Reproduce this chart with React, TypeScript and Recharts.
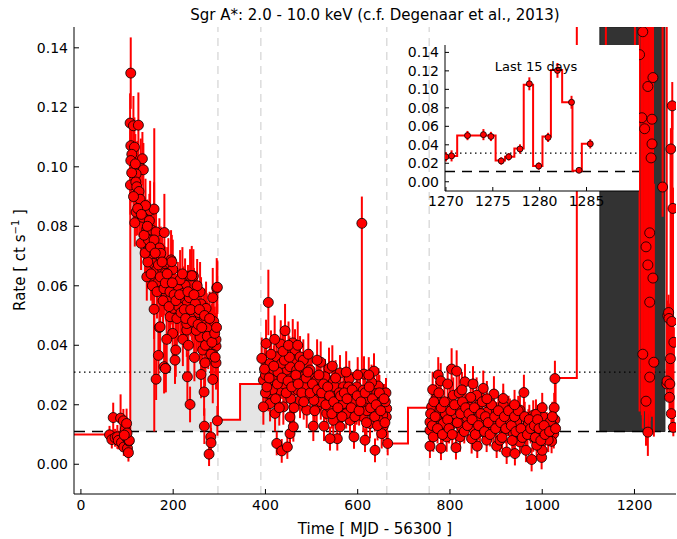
import React from "react";
import { Area, CartesianGrid, ComposedChart, ErrorBar, Line, ReferenceArea, ReferenceLine, Scatter, XAxis, YAxis } from "recharts";

const FONT = "DejaVu Sans";
const RED = "#ff0000";

const xTicks = [0, 200, 400, 600, 800, 1000, 1200];
const yTicks = [0, 0.02, 0.04, 0.06, 0.08, 0.1, 0.12, 0.14];
const insetXTicks = [1270, 1275, 1280, 1285];

const quiescentLevel = 0.011;
const meanLevel = 0.031;
const gapMarkers = [297, 390, 663, 755];
const recentWindow = [1125, 1266];
const outburstFill = [107, 430];

// binned light curve: [bin start, rate]
const binnedSteps: [number, number][] = [
  [-15, 0.01], [60, 0.01], [107, 0.105], [115, 0.097], [125, 0.088], [135, 0.08], [148, 0.074],
  [160, 0.067], [175, 0.061], [190, 0.057], [205, 0.053], [220, 0.05], [240, 0.046], [260, 0.042],
  [278, 0.036], [297, 0.015], [345, 0.027], [390, 0.029], [430, 0.026], [480, 0.024], [540, 0.021],
  [600, 0.02], [663, 0.007], [709, 0.019], [755, 0.016], [850, 0.014], [950, 0.012], [1029, 0.029],
  [1075, 0.2], [1138, 0.12], [1201, 0.2],
];

// last 15 days, binned
const lastSteps: [number, number][] = [
  [1269.9, 0.028], [1271.2, 0.05], [1275.3, 0.023], [1276.3, 0.027], [1277.3, 0.036], [1278.3, 0.105],
  [1279.3, 0.017], [1280.3, 0.049], [1281.2, 0.121], [1282.4, 0.086], [1283.5, 0.012], [1284.5, 0.041],
  [1285.6, 0.041],
];

const lastDaysTimes = [1270.0, 1270.6, 1272.3, 1274.0, 1274.8, 1275.9, 1276.7, 1277.9, 1278.9, 1279.9, 1280.9, 1281.9, 1283.4, 1284.2, 1285.4];
const lastDaysRates = [0.027, 0.028, 0.05, 0.051, 0.049, 0.0225, 0.027, 0.0355, 0.106, 0.017, 0.048, 0.1205, 0.086, 0.0124, 0.041];
const lastDaysErrors = [0.005, 0.006, 0.005, 0.006, 0.005, 0.004, 0.004, 0.005, 0.007, 0.004, 0.005, 0.008, 0.007, 0.003, 0.005];

// [time, rate, error]
const quiescentPoints: [number, number, number][] = [
  [62, 0.0099, 0.003], [67, 0.0083, 0.003], [70, 0.0157, 0.005], [74, 0.0089, 0.003], [79, 0.0092, 0.004],
  [81, 0.008, 0.003], [86, 0.0155, 0.008], [88, 0.0073, 0.003], [92, 0.0146, 0.004], [93, 0.0058, 0.003],
  [96, 0.0118, 0.004], [99, 0.0137, 0.005], [99, 0.009, 0.003], [101, 0.0054, 0.003], [103, 0.0039, 0.003],
  [104, 0.0078, 0.003], [105, 0.008, 0.004], [100, 0.0105, 0.004], [94, 0.0098, 0.003],
];

const decayPoints: [number, number, number][] = [
  [108, 0.1315, 0.012], [106.6, 0.1147, 0.01], [113.8, 0.1138, 0.01], [124.6, 0.114, 0.011], [108.1, 0.1071, 0.009],
  [116, 0.1066, 0.01], [110.3, 0.1042, 0.009], [108.1, 0.1021, 0.01], [133.3, 0.1027, 0.009], [122.4, 0.0997, 0.009],
  [129.8, 0.0995, 0.01], [135.4, 0.099, 0.009], [119.6, 0.0976, 0.009], [107.3, 0.0939, 0.01], [119, 0.0949, 0.009],
  [121.1, 0.0933, 0.008], [126, 0.0917, 0.009], [128.3, 0.0891, 0.009], [119.6, 0.0848, 0.008], [126.8, 0.0855, 0.009],
  [116.8, 0.0812, 0.008], [134.1, 0.083, 0.009], [150, 0.0853, 0.01], [158.6, 0.0858, 0.009], [148.4, 0.0819, 0.009],
  [142.8, 0.079, 0.009], [153.6, 0.0787, 0.008], [162.9, 0.0781, 0.009], [180.9, 0.0779, 0.013], [159, 0.062, 0.051],
  [130.4, 0.0743, 0.009], [146.3, 0.0754, 0.009], [158.6, 0.0754, 0.009], [170.1, 0.0727, 0.01], [173.1, 0.0709, 0.009],
  [153.6, 0.0698, 0.009], [157.1, 0.0675, 0.008], [195.4, 0.0687, 0.01], [189.6, 0.067, 0.009], [164.5, 0.0655, 0.009],
  [199.1, 0.0655, 0.01], [177.5, 0.0653, 0.009], [142.8, 0.063, 0.008], [236.6, 0.0633, 0.009], [243.8, 0.0633, 0.009],
  [158.6, 0.0521, 0.01], [170.1, 0.046, 0.01], [168, 0.0366, 0.008], [163, 0.0286, 0.007], [180.3, 0.0328, 0.009],
  [184, 0.0322, 0.008], [205.6, 0.0384, 0.009], [204, 0.035, 0.008], [230.8, 0.0294, 0.008], [236.6, 0.0201, 0.006],
  [189.6, 0.0612, 0.009], [197, 0.0681, 0.009], [240.3, 0.0634, 0.01], [225.8, 0.0602, 0.009], [258.3, 0.058, 0.01],
  [260.4, 0.0539, 0.009], [271.3, 0.0524, 0.009], [294.4, 0.0593, 0.01], [285.8, 0.056, 0.01], [246, 0.0462, 0.009],
  [283.6, 0.0451, 0.009], [287.1, 0.0438, 0.009], [292.9, 0.0397, 0.009], [285.8, 0.037, 0.008], [292.9, 0.0341, 0.009],
  [269.1, 0.0341, 0.008], [264.1, 0.0384, 0.009], [246, 0.0359, 0.008], [229.5, 0.0451, 0.009], [211.3, 0.0507, 0.009],
  [193.3, 0.0496, 0.009], [260.4, 0.0302, 0.008], [285.8, 0.0285, 0.008], [267, 0.0243, 0.008], [267.6, 0.0128, 0.006],
  [295.8, 0.0146, 0.005], [281.5, 0.0092, 0.005], [282.1, 0.0072, 0.005], [277.8, 0.0034, 0.004], [269.8, 0.0444, 0.009],
  [280, 0.0428, 0.009], [251.1, 0.0496, 0.009], [182.4, 0.0642, 0.009], [218.6, 0.0546, 0.009], [200.4, 0.0524, 0.009],
  [240.3, 0.0507, 0.009], [272.8, 0.0485, 0.009], [258.3, 0.0428, 0.009], [229.5, 0.0473, 0.009], [292.9, 0.0419, 0.009],
  [295.8, 0.0595, 0.009], [171.6, 0.0462, 0.01], [183.1, 0.0322, 0.008], [166, 0.061, 0.009], [175, 0.0585, 0.009],
  [185, 0.057, 0.009], [195, 0.056, 0.009], [210, 0.059, 0.009], [215, 0.062, 0.01], [222, 0.0575, 0.009],
  [230, 0.054, 0.009], [235, 0.056, 0.009], [248, 0.054, 0.009], [255, 0.051, 0.009], [265, 0.048, 0.009],
  [275, 0.046, 0.009], [212, 0.053, 0.009], [178, 0.055, 0.009], [148, 0.072, 0.009], [140, 0.087, 0.009],
  [145, 0.068, 0.009], [252, 0.06, 0.009], [276, 0.04, 0.008], [288, 0.048, 0.009], [220, 0.064, 0.009],
  [110, 0.098, 0.01], [114, 0.09, 0.009], [118, 0.101, 0.01], [123, 0.086, 0.009], [131, 0.084, 0.009],
  [137, 0.077, 0.009], [139, 0.071, 0.009], [144, 0.08, 0.009], [151, 0.073, 0.009], [152, 0.064, 0.009],
  [155, 0.06, 0.009], [161, 0.071, 0.009], [165, 0.058, 0.009], [168, 0.067, 0.009], [172, 0.063, 0.009],
  [176, 0.068, 0.009], [180, 0.059, 0.009], [183, 0.061, 0.009], [187, 0.064, 0.009], [191, 0.053, 0.009],
  [193, 0.058, 0.009], [198, 0.061, 0.009], [202, 0.057, 0.009], [206, 0.055, 0.009], [208, 0.049, 0.009],
  [214, 0.057, 0.009], [217, 0.051, 0.009], [224, 0.052, 0.009], [227, 0.049, 0.009], [232, 0.058, 0.009],
  [238, 0.052, 0.009], [242, 0.048, 0.009], [245, 0.057, 0.009], [250, 0.045, 0.009], [254, 0.047, 0.009],
  [257, 0.052, 0.009], [262, 0.046, 0.009], [268, 0.05, 0.009], [270, 0.04, 0.009], [274, 0.043, 0.009],
  [279, 0.049, 0.009], [282, 0.037, 0.008], [284, 0.041, 0.009], [290, 0.044, 0.009], [291, 0.036, 0.008],
  [294, 0.046, 0.009], [199, 0.044, 0.009], [186, 0.042, 0.009], [221, 0.042, 0.009], [233, 0.04, 0.009],
];

const plateauPoints: [number, number, number][] = [
  [406.3, 0.0544, 0.011], [442.5, 0.0449, 0.009], [401.3, 0.0406, 0.008], [392, 0.0356, 0.007], [433.2, 0.0404, 0.008],
  [459.2, 0.0408, 0.008], [464.1, 0.0384, 0.007], [475, 0.0361, 0.007], [482.1, 0.035, 0.007], [519.8, 0.0343, 0.007],
  [537.8, 0.0322, 0.007], [561.6, 0.0307, 0.006], [581.8, 0.0288, 0.006], [613.7, 0.0303, 0.006], [635.3, 0.0313, 0.006],
  [644.7, 0.0263, 0.006], [661.3, 0.024, 0.005], [662.8, 0.0187, 0.005], [662, 0.0159, 0.005], [665, 0.007, 0.004],
  [637.5, 0.0047, 0.004], [615.8, 0.0081, 0.004], [592, 0.0092, 0.004], [555.8, 0.0086, 0.004], [540, 0.0086, 0.004],
  [527, 0.0128, 0.005], [503.8, 0.0128, 0.005], [424.5, 0.007, 0.004], [435.3, 0.0045, 0.004], [447.5, 0.0058, 0.004],
  [453.3, 0.0103, 0.005], [460.5, 0.0126, 0.005], [410, 0.0204, 0.006], [395.5, 0.0193, 0.006], [395.5, 0.0283, 0.007],
  [417, 0.0283, 0.007], [431.6, 0.0249, 0.006], [446.2, 0.0317, 0.007], [460.5, 0.0283, 0.007], [478.6, 0.0294, 0.007],
  [500.3, 0.0294, 0.007], [503.8, 0.0249, 0.006], [518.3, 0.026, 0.006], [532.8, 0.0232, 0.006], [547.1, 0.0283, 0.006],
  [554.5, 0.0221, 0.006], [568.8, 0.0204, 0.006], [583.3, 0.0232, 0.006], [597.8, 0.0193, 0.006], [605, 0.0232, 0.006],
  [623, 0.0221, 0.006], [633.8, 0.0176, 0.005], [648.3, 0.021, 0.006], [654.2, 0.0165, 0.005], [655.5, 0.0128, 0.005],
  [652, 0.0103, 0.005], [626.7, 0.0137, 0.005], [612.1, 0.0159, 0.005], [583.3, 0.0148, 0.005], [561.6, 0.0126, 0.005],
  [547.1, 0.0148, 0.005], [532.8, 0.0171, 0.005], [511.1, 0.0193, 0.006], [489.5, 0.0182, 0.006], [475, 0.0215, 0.006],
  [453.3, 0.0159, 0.005], [438.8, 0.0193, 0.006], [420.8, 0.0171, 0.006], [406.3, 0.0238, 0.006], [410, 0.0339, 0.007],
  [424.5, 0.0361, 0.007], [435.3, 0.0339, 0.007], [453.3, 0.0328, 0.007], [467.8, 0.0317, 0.007], [496.7, 0.0317, 0.007],
  [511.1, 0.0283, 0.006], [529.1, 0.0294, 0.006], [550.8, 0.026, 0.006], [568.8, 0.026, 0.006], [597.8, 0.026, 0.006],
  [612.1, 0.0249, 0.006], [641.2, 0.0238, 0.006], [400, 0.03, 0.007], [415, 0.025, 0.006], [440, 0.027, 0.006],
  [470, 0.025, 0.006], [490, 0.023, 0.006], [520, 0.021, 0.006], [540, 0.019, 0.005], [575, 0.017, 0.005],
  [590, 0.021, 0.005], [620, 0.018, 0.005], [645, 0.015, 0.005], [660, 0.021, 0.005], [485, 0.0265, 0.006],
  [560, 0.024, 0.006], [630, 0.0275, 0.006], [400, 0.024, 0.006], [427, 0.031, 0.007], [455, 0.022, 0.006],
  [505, 0.0215, 0.006], [580, 0.026, 0.006],
  [398, 0.032, 0.007], [403, 0.026, 0.006], [408, 0.029, 0.007], [412, 0.037, 0.008], [418, 0.033, 0.007],
  [422, 0.022, 0.006], [426, 0.027, 0.006], [430, 0.019, 0.006], [436, 0.029, 0.007], [441, 0.035, 0.007],
  [445, 0.024, 0.006], [449, 0.028, 0.006], [452, 0.036, 0.007], [457, 0.026, 0.006], [462, 0.019, 0.006],
  [466, 0.03, 0.007], [471, 0.027, 0.006], [474, 0.033, 0.007], [479, 0.024, 0.006], [483, 0.021, 0.006],
  [488, 0.029, 0.006], [492, 0.031, 0.007], [497, 0.024, 0.006], [502, 0.027, 0.006], [507, 0.018, 0.005],
  [513, 0.025, 0.006], [516, 0.03, 0.006], [522, 0.024, 0.006], [526, 0.027, 0.006], [531, 0.02, 0.005],
  [535, 0.026, 0.006], [539, 0.023, 0.006], [544, 0.017, 0.005], [548, 0.021, 0.005], [552, 0.029, 0.006],
  [557, 0.019, 0.005], [563, 0.023, 0.006], [566, 0.016, 0.005], [571, 0.024, 0.006], [577, 0.022, 0.005],
  [586, 0.019, 0.005], [588, 0.025, 0.006], [594, 0.016, 0.005], [599, 0.023, 0.006], [603, 0.018, 0.005],
  [607, 0.021, 0.005], [616, 0.024, 0.006], [619, 0.014, 0.005], [625, 0.026, 0.006], [628, 0.019, 0.005],
  [632, 0.022, 0.005], [637, 0.016, 0.005], [640, 0.02, 0.005], [643, 0.013, 0.005], [647, 0.024, 0.006],
  [650, 0.018, 0.005], [657, 0.022, 0.005], [659, 0.014, 0.005], [420, 0.042, 0.008], [438, 0.038, 0.008],
  [450, 0.04, 0.008], [470, 0.04, 0.008], [493, 0.037, 0.007], [512, 0.035, 0.007], [545, 0.033, 0.007],
  [575, 0.031, 0.007], [600, 0.03, 0.006], [624, 0.03, 0.006],
];

const latePoints: [number, number, number][] = [
  [774.6, 0.03, 0.006], [803.6, 0.032, 0.007], [814.5, 0.0313, 0.007], [762.5, 0.0251, 0.006], [832.5, 0.0277, 0.006],
  [872.2, 0.0255, 0.006], [895.3, 0.0236, 0.006], [960.3, 0.0241, 0.006], [1027.5, 0.0288, 0.006], [1026, 0.019, 0.005],
  [1027.5, 0.015, 0.005], [1025.3, 0.0126, 0.005], [1025, 0.0103, 0.005], [1020.3, 0.0077, 0.004], [756.6, 0.0061, 0.004],
  [780.5, 0.0054, 0.004], [813, 0.0056, 0.004], [859.2, 0.0061, 0.004], [901.2, 0.0061, 0.004], [922.9, 0.0041, 0.004],
  [940.8, 0.0036, 0.004], [964.7, 0.0047, 0.004], [977, 0.0016, 0.004], [998.7, 0.0023, 0.004], [1000, 0.0047, 0.004],
  [756.6, 0.0114, 0.005], [756.6, 0.0142, 0.005], [760.3, 0.0193, 0.005], [800, 0.021, 0.005], [818, 0.0182, 0.005],
  [843.3, 0.0193, 0.005], [865, 0.0204, 0.005], [886.7, 0.0182, 0.005], [915.5, 0.0199, 0.005], [930, 0.0171, 0.005],
  [951.7, 0.0182, 0.005], [980.5, 0.0165, 0.005], [1002.2, 0.0159, 0.005], [771.2, 0.0159, 0.005], [785.5, 0.0137, 0.005],
  [807.2, 0.0137, 0.005], [828.8, 0.0148, 0.005], [850.5, 0.012, 0.005], [872.2, 0.0137, 0.005], [893.8, 0.0114, 0.005],
  [915.5, 0.0126, 0.005], [937.2, 0.0103, 0.005], [958.8, 0.0114, 0.005], [980.5, 0.0092, 0.005], [995, 0.0109, 0.005],
  [1013, 0.0081, 0.004], [763.8, 0.0092, 0.005], [792.8, 0.0092, 0.005], [821.7, 0.0092, 0.005], [847, 0.0086, 0.005],
  [879.5, 0.0081, 0.004], [908.3, 0.0081, 0.004], [951.7, 0.0075, 0.004], [987.9, 0.0064, 0.004], [778.3, 0.0182, 0.005],
  [836, 0.0159, 0.005], [901.2, 0.0159, 0.005], [944.5, 0.0142, 0.005], [966.2, 0.0126, 0.005], [865, 0.0109, 0.005],
  [807.2, 0.0232, 0.006], [857.8, 0.0232, 0.006], [915.5, 0.0221, 0.005], [986.4, 0.0168, 0.005], [790, 0.017, 0.005],
  [825, 0.0125, 0.005], [860, 0.0155, 0.005], [880, 0.0175, 0.005], [925, 0.0145, 0.005], [970, 0.0135, 0.005],
  [1010, 0.0125, 0.005], [1018, 0.0145, 0.005], [770, 0.022, 0.006], [845, 0.0225, 0.006],
  [758, 0.017, 0.005], [762, 0.013, 0.005], [765, 0.021, 0.005], [768, 0.016, 0.005], [773, 0.012, 0.005],
  [776, 0.024, 0.006], [781, 0.019, 0.005], [784, 0.01, 0.004], [788, 0.021, 0.005], [795, 0.015, 0.005],
  [798, 0.012, 0.005], [802, 0.018, 0.005], [805, 0.01, 0.004], [810, 0.02, 0.005], [816, 0.014, 0.005],
  [820, 0.024, 0.006], [823, 0.017, 0.005], [827, 0.021, 0.005], [831, 0.011, 0.004], [834, 0.019, 0.005],
  [838, 0.013, 0.005], [841, 0.017, 0.005], [848, 0.015, 0.005], [853, 0.019, 0.005], [855, 0.01, 0.004],
  [862, 0.013, 0.005], [867, 0.017, 0.005], [870, 0.021, 0.005], [875, 0.011, 0.004], [877, 0.016, 0.005],
  [883, 0.014, 0.005], [887, 0.01, 0.004], [890, 0.02, 0.005], [897, 0.016, 0.005], [899, 0.012, 0.005],
  [905, 0.018, 0.005], [910, 0.014, 0.005], [913, 0.009, 0.004], [918, 0.016, 0.005], [921, 0.012, 0.005],
  [927, 0.018, 0.005], [933, 0.013, 0.005], [935, 0.008, 0.004], [940, 0.016, 0.005], [943, 0.011, 0.004],
  [948, 0.018, 0.005], [954, 0.012, 0.005], [957, 0.009, 0.004], [962, 0.016, 0.005], [968, 0.01, 0.004],
  [972, 0.015, 0.005], [975, 0.012, 0.005], [983, 0.013, 0.005], [985, 0.009, 0.004], [990, 0.015, 0.005],
  [993, 0.012, 0.005], [997, 0.008, 0.004], [1004, 0.013, 0.005], [1006, 0.01, 0.004], [1016, 0.011, 0.004],
  [1022, 0.016, 0.005], [1029, 0.012, 0.005], [780, 0.028, 0.006], [795, 0.027, 0.006], [826, 0.025, 0.006],
  [850, 0.027, 0.006], [880, 0.022, 0.006], [940, 0.02, 0.005], [1000, 0.019, 0.005],
];

// [time, rate, error below, error above]
const flarePoints: [number, number, number, number][] = [
  [609, 0.081, 0.05, 0.009],
  [1211, 0.1377, 0.12, 0.0093], [1216, 0.1165, 0.1, 0.0305], [1218, 0.1454, 0.13, 0.0016], [1218, 0.037, 0.025, 0.11],
  [1222, 0.1128, 0.095, 0.0342], [1225, 0.0731, 0.06, 0.0739], [1225, 0.0212, 0.015, 0.1258], [1229, 0.127, 0.11, 0.02],
  [1229, 0.067, 0.05, 0.08], [1229, 0.0108, 0.008, 0.03], [1233, 0.0778, 0.06, 0.0692], [1233, 0.0545, 0.04, 0.0925],
  [1233, 0.0293, 0.02, 0.1177], [1236, 0.103, 0.085, 0.044], [1238, 0.116, 0.1, 0.031], [1238, 0.1077, 0.09, 0.0393],
  [1240, 0.13, 0.11, 0.017], [1240, 0.0626, 0.045, 0.0844], [1242, 0.0343, 0.025, 0.06], [1261, 0.0932, 0.01, 0.0538],
];

const toPoints = (rows: [number, number, number][]) => rows.map(([x, y, e]) => ({ x, y, e }));
const stepData = (rows: [number, number][]) => rows.map(([x, y]) => ({ x, y }));

const mainSteps = stepData([...binnedSteps, ...lastSteps]);
const fillSteps = [
  ...stepData(binnedSteps.filter(([x]) => x >= outburstFill[0] && x < outburstFill[1])),
  { x: outburstFill[1], y: binnedSteps.find(([x]) => x === outburstFill[1])?.[1] ?? quiescentLevel },
];
const lastDayPoints = lastDaysTimes.map((x, i) => ({ x, y: lastDaysRates[i], e: lastDaysErrors[i] }));
const pointSets = [quiescentPoints, decayPoints, plateauPoints, latePoints].map(toPoints);
const flareData = flarePoints.map(([x, y, lo, hi]) => ({ x, y, e: [lo, hi] }));

const tickStyle = { fontSize: 14, fill: "#000", fontFamily: FONT };

const dot = (r: number) => (props: any) => (
  <circle cx={props.cx} cy={props.cy} r={r} fill={RED} stroke="#000" strokeWidth={0.8} />
);

function Series({ data, r, id }: { data: any[]; r: number; id: string }) {
  return (
    <Scatter key={id} data={data} dataKey="y" shape={dot(r)} isAnimationActive={false}>
      <ErrorBar dataKey="e" direction="y" width={0} stroke={RED} strokeWidth={2} />
    </Scatter>
  );
}

function Inset() {
  return (
    <ComposedChart width={245} height={175} margin={{ top: 5, right: 6, bottom: 0, left: 0 }}>
      <CartesianGrid horizontal={false} vertical={false} fill="#fff" fillOpacity={1} />
      <XAxis type="number" dataKey="x" domain={[1269.9, 1290.6]} ticks={insetXTicks} interval={0} allowDataOverflow height={24}
        tickSize={-4} tickMargin={9} stroke="#000" tick={tickStyle} />
      <XAxis xAxisId="top" orientation="top" type="number" domain={[1269.9, 1290.6]} ticks={insetXTicks} interval={0} allowDataOverflow
        height={0} tickSize={-4} tickFormatter={() => ""} stroke="#000" />
      <YAxis type="number" dataKey="y" domain={[-0.01, 0.148]} ticks={yTicks} interval={0} allowDataOverflow width={45}
        tickSize={-4} tickMargin={10} stroke="#000" tick={tickStyle} tickFormatter={(v: number) => v.toFixed(2)} />
      <YAxis yAxisId="right" orientation="right" type="number" domain={[-0.01, 0.148]} ticks={yTicks} interval={0} allowDataOverflow
        width={0} tickSize={-4} tickFormatter={() => ""} stroke="#000" />
      <ReferenceLine y={meanLevel} stroke="#000" strokeDasharray="1.5 3.5" strokeWidth={1.2} />
      <ReferenceLine y={quiescentLevel} stroke="#000" strokeDasharray="10 7" strokeWidth={1.5} />
      <Line data={stepData(lastSteps)} dataKey="y" type="stepAfter" stroke={RED} strokeWidth={2} dot={false} isAnimationActive={false} />
      <Scatter data={lastDayPoints} dataKey="y" shape={dot(3)} isAnimationActive={false}>
        <ErrorBar dataKey="e" direction="y" width={0} stroke={RED} strokeWidth={2} />
      </Scatter>
    </ComposedChart>
  );
}

export default function App() {
  return (
    <div style={{ position: "absolute", left: 0, top: 0, width: 677, height: 539, background: "#fff", fontFamily: FONT }}>
      <ComposedChart width={677} height={539} margin={{ top: 27, right: 1, bottom: 0, left: 0 }}>
        <XAxis type="number" dataKey="x" domain={[-15, 1290]} ticks={xTicks} interval={0} allowDataOverflow height={45}
          tickSize={-5} tickMargin={11} stroke="#000" tick={tickStyle} />
        <XAxis xAxisId="top" orientation="top" type="number" domain={[-15, 1290]} ticks={xTicks} interval={0} allowDataOverflow
          height={0} tickSize={-5} tickFormatter={() => ""} stroke="#000" />
        <YAxis type="number" dataKey="y" domain={[-0.01, 0.147]} ticks={yTicks} interval={0} allowDataOverflow width={74}
          tickSize={-5} tickMargin={11} stroke="#000" tick={tickStyle} tickFormatter={(v: number) => v.toFixed(2)} />
        <YAxis yAxisId="right" orientation="right" type="number" domain={[-0.01, 0.147]} ticks={yTicks} interval={0} allowDataOverflow
          width={0} tickSize={-5} tickFormatter={() => ""} stroke="#000" />
        <Area data={fillSteps} dataKey="y" type="stepAfter" baseValue={quiescentLevel} fill="#e5e5e5" fillOpacity={1}
          stroke="none" isAnimationActive={false} />
        <ReferenceArea x1={recentWindow[0]} x2={recentWindow[1]} y1={quiescentLevel} y2={0.147} fill="#333" fillOpacity={1}
          stroke="#222" ifOverflow="hidden" />
        {gapMarkers.map((x) => (
          <ReferenceLine key={x} x={x} stroke="#dcdcdc" strokeDasharray="8 6" strokeWidth={1.5} />
        ))}
        <ReferenceLine y={meanLevel} stroke="#000" strokeDasharray="1.5 3.5" strokeWidth={1.2} />
        <ReferenceLine y={quiescentLevel} stroke="#000" strokeDasharray="11 7" strokeWidth={1.5} />
        <Line data={mainSteps} dataKey="y" type="stepAfter" stroke={RED} strokeWidth={2} dot={false} isAnimationActive={false} />
        {pointSets.map((pts, i) => Series({ data: pts, r: 5, id: "set" + i }))}
        {Series({ data: flareData, r: 5, id: "flare" })}
        {Series({ data: lastDayPoints, r: 5, id: "last" })}
      </ComposedChart>
      <div style={{ position: "absolute", left: 400, top: 40 }}>
        <Inset />
      </div>
      <svg width={677} height={539} style={{ position: "absolute", left: 0, top: 0, pointerEvents: "none" }} fontFamily={FONT}>
        <text x={375} y={20} textAnchor="middle" fontSize={15} fill="#000">
          Sgr A*: 2.0 - 10.0 keV (c.f. Degenaar et al., 2013)
        </text>
        <text x={375} y={534} textAnchor="middle" fontSize={15} fill="#000">
          Time [ MJD - 56300 ]
        </text>
        <text transform="translate(25,260) rotate(-90)" textAnchor="middle" fontSize={15} fill="#000">
          Rate [ ct s<tspan dy={-6} fontSize={10}>−1</tspan><tspan dy={6}> ]</tspan>
        </text>
        <text x={536} y={71} textAnchor="middle" fontSize={13} fill="#000">
          Last 15 days
        </text>
      </svg>
    </div>
  );
}
